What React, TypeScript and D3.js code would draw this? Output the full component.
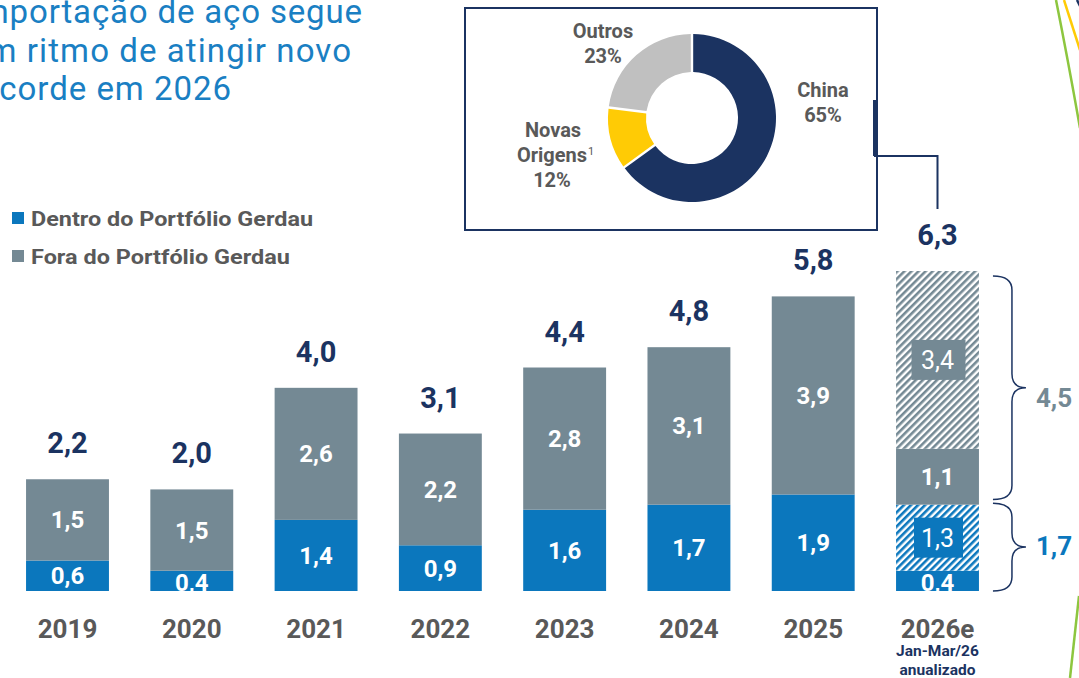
import React from 'react';
import * as d3 from 'd3';

// dados (milhões de t)
const years = ['2019', '2020', '2021', '2022', '2023', '2024', '2025', '2026e'];
const dentro = [0.6, 0.4, 1.4, 0.9, 1.6, 1.7, 1.9, 0.4];
const fora = [1.5, 1.5, 2.6, 2.2, 2.8, 3.1, 3.9, 1.1];
const totals = [2.2, 2.0, 4.0, 3.1, 4.4, 4.8, 5.8, 6.3];
// projeção 2026 (hachurado)
const dentroProj = [0, 0, 0, 0, 0, 0, 0, 1.3];
const foraProj = [0, 0, 0, 0, 0, 0, 0, 3.4];
const braceTotals = { fora: 4.5, dentro: 1.7 };

const origens = ['China', 'Novas Origens', 'Outros'];
const origemShare = [65, 12, 23];

const titleLines = ['Importação de aço segue', 'em ritmo de atingir novo', 'recorde em 2026'];
const legendLabels = ['Dentro do Portfólio Gerdau', 'Fora do Portfólio Gerdau'];

const BLUE = '#0b77bd';
const GRAY = '#748994';
const NAVY = '#1b3361';
const TXT = '#595959';
const FONT = 'Roboto, "Noto Sans", sans-serif';

const fmt = (v: number) => v.toFixed(1).replace('.', ',');

const brace = (x0: number, y1: number, y2: number) => {
  const x1 = x0 + 19;
  const xt = x0 + 33;
  const ym = (y1 + y2) / 2;
  const r = 14;
  return `M${x0},${y1} Q${x1},${y1} ${x1},${y1 + r} V${ym - r} Q${x1},${ym} ${xt},${ym} ` +
    `Q${x1},${ym} ${x1},${ym + r} V${y2 - r} Q${x1},${y2} ${x0},${y2}`;
};

const App = () => {
  const x = d3.scalePoint<string>().domain(years).range([67.5, 937.5]);
  const bw = x.step() * 0.667;
  const y = d3.scaleLinear().domain([0, 6.3]).range([591, 271]);

  // empilhamento
  const segs: { x: number; y0: number; y1: number; fill: string; label: string; hatch: boolean }[] = [];
  years.forEach((yr, i) => {
    const cx = x(yr)!;
    let acc = 0;
    const parts = [
      { v: dentro[i], fill: BLUE, hatch: false },
      { v: dentroProj[i], fill: 'url(#hatchBlue)', hatch: true },
      { v: fora[i], fill: GRAY, hatch: false },
      { v: foraProj[i], fill: 'url(#hatchGray)', hatch: true },
    ].filter(p => p.v > 0);
    parts.forEach((p, j) => {
      const top = j === parts.length - 1 ? totals[i] : acc + p.v;
      segs.push({ x: cx, y0: acc, y1: top, fill: p.fill, label: fmt(p.v), hatch: p.hatch });
      acc = top;
    });
  });

  const pie = d3.pie<number>().sort(null).value(d => d)(origemShare);
  const arc = d3.arc<d3.PieArcDatum<number>>().innerRadius(46).outerRadius(84).padAngle(0.025);
  const pieColors = [NAVY, '#ffcb05', '#c0c0c0'];
  const dcx = 692, dcy = 118;

  const last = years[years.length - 1];
  const lx = x(last)! + bw / 2;

  // largura das linhas do título (texto cortado à esquerda, como no original)
  const titleEnds = [362, 351, 231];
  const titleLens = [392, 382, 262];

  return (
    <svg width={1079} height={678} style={{ position: 'absolute', left: 0, top: 0, background: '#fff' }}
      fontFamily={FONT}>
      <defs>
        <pattern id="hatchBlue" width={5} height={5} patternUnits="userSpaceOnUse" patternTransform="rotate(45)">
          <rect width={5} height={5} fill="#fff" />
          <rect width={2.6} height={5} fill={BLUE} />
        </pattern>
        <pattern id="hatchGray" width={5} height={5} patternUnits="userSpaceOnUse" patternTransform="rotate(45)">
          <rect width={5} height={5} fill="#fff" />
          <rect width={2.6} height={5} fill={GRAY} />
        </pattern>
        <clipPath id="plotClip">
          <rect x={0} y={0} width={1079} height={y(0)} />
        </clipPath>
      </defs>

      {/* título */}
      {titleLines.map((t, i) => (
        <text key={t} x={titleEnds[i]} y={23 + i * 38.5} textAnchor="end" fontSize={33}
          textLength={titleLens[i]} lengthAdjust="spacing" fill="#1a7fc3" fontWeight={400}>{t}</text>
      ))}

      {/* legenda */}
      {legendLabels.map((l, i) => (
        <g key={l} transform={`translate(12,${212 + i * 38})`}>
          <rect width={12} height={12} fill={i === 0 ? BLUE : GRAY} />
          <text x={19} y={13.5} fontSize={19.5} fontWeight={700} fill={TXT}
            textLength={i === 0 ? 282 : 259} lengthAdjust="spacingAndGlyphs">{l}</text>
        </g>
      ))}

      {/* caixa do donut */}
      <rect x={465} y={8} width={412} height={222} fill="none" stroke={NAVY} strokeWidth={2} />
      <path d={`M875,100 V156 H${x(last)!} V209`} fill="none" stroke={NAVY} strokeWidth={2} />
      <path d="M875,100 V156" stroke={NAVY} strokeWidth={4} />
      <g transform={`translate(${dcx},${dcy})`}>
        {pie.map((p, i) => (
          <path key={origens[i]} d={arc(p)!} fill={pieColors[i]} />
        ))}
      </g>
      <g fontSize={20} fontWeight={700} fill={TXT} textAnchor="middle">
        <text x={603} y={38}>Outros</text>
        <text x={603} y={63}>{origemShare[2]}%</text>
        <text x={823} y={97}>China</text>
        <text x={823} y={122}>{origemShare[0]}%</text>
        <text x={553} y={137}>Novas</text>
        <text x={552} y={162}>Origens</text>
        <text x={588} y={155} fontSize={11} fontWeight={400} textAnchor="start">1</text>
        <text x={552} y={187}>{origemShare[1]}%</text>
      </g>

      {/* barras */}
      <g clipPath="url(#plotClip)">
        {segs.map((s, i) => (
          <rect key={i} x={s.x - bw / 2} y={y(s.y1)} width={bw} height={y(s.y0) - y(s.y1)} fill={s.fill} />
        ))}
        {segs.map((s, i) => {
          const cy = (y(s.y0) + y(s.y1)) / 2;
          if (s.hatch) {
            const bwid = s.fill.includes('Gray') ? 54 : 49;
            return (
              <g key={'l' + i}>
                <rect x={s.x - bwid / 2 + 1} y={cy - 20} width={bwid} height={40}
                  fill={s.fill.includes('Gray') ? GRAY : BLUE} />
                <text x={s.x} y={cy + 9} textAnchor="middle" fontSize={25} fontWeight={400} fill="#fff">{s.label}</text>
              </g>
            );
          }
          const h = y(s.y0) - y(s.y1);
          const ty = h < 26 ? y(s.y1) + 20 : cy + 8.5;
          return (
            <text key={'l' + i} x={s.x} y={ty} textAnchor="middle" fontSize={24} fontWeight={700} fill="#fff">
              {s.label}
            </text>
          );
        })}
      </g>

      {/* totais */}
      {years.map((yr, i) => (
        <text key={yr} x={x(yr)!} y={y(totals[i]) - 26} textAnchor="middle" fontSize={29} fontWeight={700}
          fill={NAVY}>{fmt(totals[i])}</text>
      ))}

      {/* eixo x */}
      {years.map(yr => (
        <text key={yr} x={x(yr)!} y={638} textAnchor="middle" fontSize={26} fontWeight={700} fill={TXT}>{yr}</text>
      ))}
      <text x={x(last)!} y={656} textAnchor="middle" fontSize={15.5} fontWeight={700} fill={NAVY}>Jan-Mar/26</text>
      <text x={x(last)!} y={675} textAnchor="middle" fontSize={15.5} fontWeight={700} fill={NAVY}>anualizado</text>

      {/* chaves */}
      <path d={brace(lx + 14, y(6.2), y(1.8))} fill="none" stroke={NAVY} strokeWidth={1.5} />
      <path d={brace(lx + 14, y(1.73), y(0))} fill="none" stroke={NAVY} strokeWidth={1.5} />
      <text x={lx + 57} y={(y(6.2) + y(1.8)) / 2 + 19} fontSize={26} fontWeight={700} fill={GRAY}>
        {fmt(braceTotals.fora)}
      </text>
      <text x={lx + 57} y={(y(1.73) + y(0)) / 2 + 8} fontSize={26} fontWeight={700} fill={BLUE}>
        {fmt(braceTotals.dentro)}
      </text>

      {/* decoração lateral */}
      <path d="M1056,0 Q1068,60 1080,128" fill="none" stroke="#8dc63f" strokeWidth={2.5} />
      <path d="M1064,0 Q1072,25 1080,50" fill="none" stroke="#ffcb05" strokeWidth={2.5} />
      <path d="M1077,0 L1080,6" fill="none" stroke={NAVY} strokeWidth={2.5} />
      <path d="M1079,596 Q1074,640 1070,678" fill="none" stroke="#8dc63f" strokeWidth={2.5} />
    </svg>
  );
};

export default App;
